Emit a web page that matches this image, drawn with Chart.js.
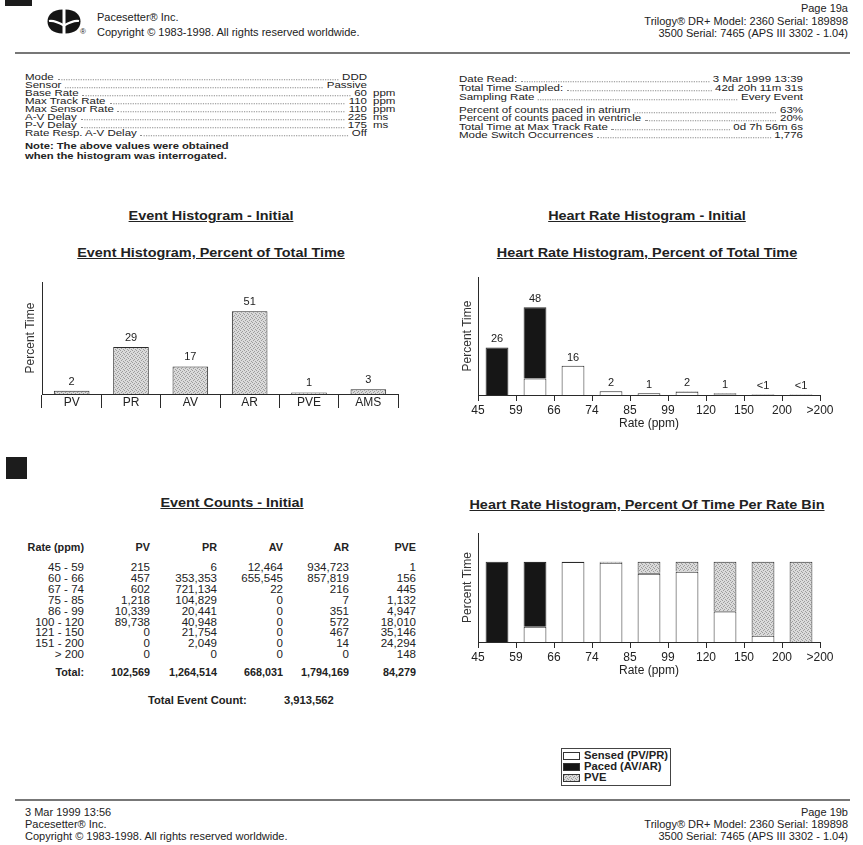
<!DOCTYPE html>
<html>
<head>
<meta charset="utf-8">
<script src="https://cdn.jsdelivr.net/npm/chart.js@4/dist/chart.umd.min.js"></script>
<style>
  html, body { margin: 0; padding: 0; background: #fff; }
  #page { position: relative; width: 863px; height: 845px; overflow: hidden; background: #fff;
          font-family: "Liberation Sans", Arial, sans-serif; color: #222; }
  .t { position: absolute; white-space: nowrap; line-height: 1; }
  .lead { position: absolute; display: flex; align-items: baseline; line-height: 1; white-space: nowrap; transform-origin: left center; }
  .lead .fill { flex: 1; height: 0; border-bottom: 1px dotted #8a8a8a; margin: 0 3px; }
  .rule { position: absolute; height: 2px; background: #777; }
  .blk { position: absolute; background: #1c1c1c; }
  canvas { position: absolute; }
  #legend { position: absolute; left: 561px; top: 748px; width: 108px; height: 36px; border: 1px solid #444; background: #fff; }
  .sw { position: absolute; width: 17px; height: 8px; border: 1px solid #333; box-sizing: border-box; }
</style>
</head>
<body>
<div id="page">
  <div class="blk" style="left:5px;top:0;width:27px;height:6px"></div>
  <svg style="position:absolute;left:47px;top:9px" width="34" height="25" viewBox="0 0 34 25">
    <path d="M15.5 0.5 C6 0.5 0.5 5.5 0.5 12.5 C0.5 19.5 6 24.5 15.5 24.5 Z" fill="#151515"/>
    <path d="M18.5 0.5 C28 0.5 33.5 5.5 33.5 12.5 C33.5 19.5 28 24.5 18.5 24.5 Z" fill="#151515"/>
    <path d="M2 12 C7 11 11 13 17 16.5 C23 13 27 11 32 12" stroke="#fff" stroke-width="2.2" fill="none"/>
  </svg>
  <div class="blk" style="left:6px;top:457px;width:21px;height:22px"></div>
  <div class="rule" style="left:15px;top:52px;width:835px"></div>
  <div class="rule" style="left:15px;top:799px;width:835px"></div>

  <canvas id="evChart" width="420" height="150" style="left:0;top:270px;width:420px;height:150px"></canvas>
  <canvas id="hrChart" width="420" height="166" style="left:430px;top:265px;width:420px;height:166px"></canvas>
  <canvas id="binChart" width="420" height="158" style="left:430px;top:520px;width:420px;height:158px"></canvas>

  <div id="legend"></div>
</div>

<script>
// ---- programmed parameters ----
const paramLabels = ['Mode', 'Sensor', 'Base Rate', 'Max Track Rate', 'Max Sensor Rate', 'A-V Delay', 'P-V Delay', 'Rate Resp. A-V Delay'];
const paramValues = ['DDD', 'Passive', '60', '110', '110', '225', '175', 'Off'];
const paramUnits  = ['', '', 'ppm', 'ppm', 'ppm', 'ms', 'ms', ''];

const readLabels = ['Date Read:', 'Total Time Sampled:', 'Sampling Rate'];
const readValues = ['3 Mar 1999 13:39', '42d 20h 11m 31s', 'Every Event'];
const statLabels = ['Percent of counts paced in atrium', 'Percent of counts paced in ventricle', 'Total Time at Max Track Rate', 'Mode Switch Occurrences'];
const statValues = ['63%', '20%', '0d 7h 56m 6s', '1,776'];

// ---- event histogram ----
const eventCats = ['PV', 'PR', 'AV', 'AR', 'PVE', 'AMS'];
const eventPct  = [2, 29, 17, 51, 1, 3];

// ---- heart rate histogram (percent of total time) ----
const rateEdges  = ['45', '59', '66', '74', '85', '99', '120', '150', '200', '>200'];
const hrSensed   = [0, 9, 16, 2, 0.9, 1.8, 0.4, 0.1, 0];
const hrPaced    = [26, 39, 0, 0, 0, 0, 0, 0, 0];
const hrPve      = [0, 0, 0, 0, 0.1, 0.2, 0.6, 0.3, 0.3];
const hrLabels   = ['26', '48', '16', '2', '1', '2', '1', '<1', '<1'];

// ---- heart rate histogram (percent of time per rate bin) ----
const binSensed = [0, 18.9, 99.9, 98.9, 85.3, 87.6, 37.9, 7.8, 0];
const binPaced  = [100, 81.0, 0, 0, 1.0, 0.4, 0.8, 0.1, 0];
const binPve    = [0, 0.1, 0.1, 1.1, 13.7, 12.0, 61.3, 92.1, 100];

// ---- event counts table ----
const rateBins = ['45 - 59', '60 - 66', '67 - 74', '75 - 85', '86 - 99', '100 - 120', '121 - 150', '151 - 200', '> 200'];
const countPV  = [215, 457, 602, 1218, 10339, 89738, 0, 0, 0];
const countPR  = [6, 353353, 721134, 104829, 20441, 40948, 21754, 2049, 0];
const countAV  = [12464, 655545, 22, 0, 0, 0, 0, 0, 0];
const countAR  = [934723, 857819, 216, 7, 351, 572, 467, 14, 0];
const countPVE = [1, 156, 445, 1132, 4947, 18010, 35146, 24294, 148];
const countTotals = [102569, 1264514, 668031, 1794169, 84279];
const totalEventCount = 3913562;

const page = document.getElementById('page');
const FONT = '"Liberation Sans", Arial, sans-serif';

// absolutely placed text line; y is the vertical centre, sx widens the glyphs
function put(txt, x, y, o = {}) {
  const d = document.createElement('div');
  d.className = 't';
  d.textContent = txt;
  d.style.left = x + 'px';
  d.style.top = y + 'px';
  const align = o.align || 'left';
  const tx = align === 'right' ? '-100%' : align === 'center' ? '-50%' : '0';
  d.style.transformOrigin = align + ' center';
  d.style.transform = `translate(${tx},-50%) scaleX(${o.sx || 1})`;
  d.style.fontSize = (o.size || 10) + 'px';
  if (o.bold) d.style.fontWeight = 'bold';
  if (o.u) d.style.textDecoration = 'underline';
  (o.parent || page).appendChild(d);
  return d;
}

// label ........ value row
function leader(label, value, x1, x2, y, size, sx) {
  const r = document.createElement('div');
  r.className = 'lead';
  r.style.left = x1 + 'px';
  r.style.width = ((x2 - x1) / sx) + 'px';
  r.style.top = y + 'px';
  r.style.transform = `translateY(-50%) scaleX(${sx})`;
  r.style.fontSize = size + 'px';
  const a = document.createElement('span'); a.textContent = label;
  const f = document.createElement('span'); f.className = 'fill';
  const b = document.createElement('span'); b.textContent = value;
  r.append(a, f, b);
  page.appendChild(r);
}

// header
put('Pacesetter\u00AE Inc.', 97, 17, { size: 11 });
put('Copyright \u00A9 1983-1998. All rights reserved worldwide.', 97, 32, { size: 11 });
put('\u00AE', 80, 32, { size: 8 });
put('Page 19a', 848, 8, { size: 11, align: 'right' });
put('Trilogy\u00AE DR+ Model: 2360 Serial: 189898', 848, 21, { size: 11, align: 'right' });
put('3500 Serial: 7465 (APS III 3302 - 1.04)', 848, 33, { size: 11, align: 'right' });

// parameter block
const PS = 9.5, PX = 1.21;
const paramY = [77, 85, 93, 101, 109, 117, 125, 133];
paramLabels.forEach((l, i) => {
  leader(l, paramValues[i], 25, 367, paramY[i], PS, PX);
  if (paramUnits[i]) put(paramUnits[i], 373, paramY[i], { size: PS, sx: PX });
});
put('Note: The above values were obtained', 25, 146, { size: 9.5, bold: true, sx: 1.18 });
put('when the histogram was interrogated.', 25, 156, { size: 9.5, bold: true, sx: 1.18 });

const readY = [79, 88, 97];
readLabels.forEach((l, i) => leader(l, readValues[i], 459, 803, readY[i], PS, PX));
const statY = [110, 118, 127, 135];
statLabels.forEach((l, i) => leader(l, statValues[i], 459, 803, statY[i], PS, PX));

// section titles
const TT = { size: 12, bold: true, u: true, align: 'center', sx: 1.2 };
put('Event Histogram - Initial', 211, 216, TT);
put('Heart Rate Histogram - Initial', 647, 216, TT);
put('Event Histogram, Percent of Total Time', 211, 253, TT);
put('Heart Rate Histogram, Percent of Total Time', 647, 253, TT);
put('Event Counts - Initial', 232, 503, TT);
put('Heart Rate Histogram, Percent Of Time Per Rate Bin', 647, 505, TT);

// event counts table
const fmt = n => n.toLocaleString('en-US');
const colX = [84, 150, 217, 283, 349, 416];
const heads = ['Rate (ppm)', 'PV', 'PR', 'AV', 'AR', 'PVE'];
heads.forEach((h, i) => put(h, colX[i], 548, { size: 10, bold: true, align: 'right', sx: 1.08 }));
const cols = [countPV, countPR, countAV, countAR, countPVE];
rateBins.forEach((b, r) => {
  const y = 567 + r * 10.9;
  put(b, colX[0], y, { size: 11, align: 'right', sx: 1.05 });
  cols.forEach((c, k) => put(fmt(c[r]), colX[k + 1], y, { size: 11, align: 'right', sx: 1.05 }));
});
put('Total:', colX[0], 673, { size: 10, bold: true, align: 'right', sx: 1.08 });
countTotals.forEach((t, k) => put(fmt(t), colX[k + 1], 673, { size: 10, bold: true, align: 'right', sx: 1.08 }));
put('Total Event Count:', 148, 701, { size: 10, bold: true, sx: 1.12 });
put(fmt(totalEventCount), 284, 701, { size: 10, bold: true, sx: 1.12 });

// footer
put('3 Mar 1999 13:56', 25, 812, { size: 11 });
put('Pacesetter\u00AE Inc.', 25, 824, { size: 11 });
put('Copyright \u00A9 1983-1998. All rights reserved worldwide.', 25, 836, { size: 11 });
put('Page 19b', 848, 812, { size: 11, align: 'right' });
put('Trilogy\u00AE DR+ Model: 2360 Serial: 189898', 848, 824, { size: 11, align: 'right' });
put('3500 Serial: 7465 (APS III 3302 - 1.04)', 848, 836, { size: 11, align: 'right' });

// stippled grey fill used for the shaded bars
function stippleCanvas() {
  const c = document.createElement('canvas');
  c.width = c.height = 4;
  const g = c.getContext('2d');
  g.fillStyle = '#dadada';
  g.fillRect(0, 0, 4, 4);
  g.fillStyle = '#9c9c9c';
  [[0, 0], [2, 1], [1, 2], [3, 3]].forEach(([x, y]) => g.fillRect(x, y, 1, 1));
  return c;
}
const stipCanvas = stippleCanvas();
const stipple = document.createElement('canvas').getContext('2d').createPattern(stipCanvas, 'repeat');

// legend
const legend = document.getElementById('legend');
const legendItems = [['Sensed (PV/PR)', '#fff'], ['Paced (AV/AR)', '#161616'], ['PVE', null]];
legendItems.forEach(([txt, col], i) => {
  const s = document.createElement('div');
  s.className = 'sw';
  s.style.left = '1px';
  s.style.top = (3 + i * 11) + 'px';
  if (col) s.style.background = col;
  else s.style.backgroundImage = `url(${stipCanvas.toDataURL()})`;
  legend.appendChild(s);
  put(txt, 22, 7 + i * 11, { size: 10, bold: true, parent: legend, sx: 1.12 });
});

// ---- charts ----
Chart.defaults.font.family = FONT;
Chart.defaults.color = '#222';
Chart.defaults.animation = false;

const valueLabels = {
  id: 'valueLabels',
  afterDatasetsDraw(chart, args, opts) {
    if (!opts.texts) return;
    const ctx = chart.ctx;
    const meta = chart.getDatasetMeta(chart.data.datasets.length - 1);
    ctx.save();
    ctx.font = `${opts.size}px ${FONT}`;
    ctx.fillStyle = '#222';
    ctx.textAlign = 'center';
    ctx.textBaseline = 'middle';
    meta.data.forEach((bar, i) => ctx.fillText(opts.texts[i], bar.x, bar.y - opts.gap));
    ctx.restore();
  }
};

const INK = '#2a2a2a';

function yAxis(max, width, titlePad) {
  return {
    min: 0, max,
    stacked: true,
    ticks: { display: false },
    grid: { display: false },
    border: { display: true, color: INK, width: 1 },
    title: { display: true, text: 'Percent Time', font: { size: 12 }, color: '#333', padding: { top: titlePad, bottom: 0 } },
    afterFit: s => { s.width = width; }
  };
}

function rateAxis() {
  return {
    type: 'linear', min: 0, max: 9, offset: false, stacked: true,
    ticks: { stepSize: 1, autoSkip: false, maxRotation: 0, padding: 2, font: { size: 12 }, color: '#222',
             callback: v => rateEdges[v] ?? '' },
    grid: { display: true, drawOnChartArea: false, tickLength: 6, color: INK, offset: false },
    border: { display: true, color: INK, width: 1 },
    title: { display: true, text: 'Rate (ppm)', font: { size: 12 }, color: '#222', padding: { top: 0, bottom: 0 } },
    afterFit: s => { s.height = 36; }
  };
}

const atBins = arr => arr.map((v, i) => ({ x: i + 0.5, y: v }));
const barStyle = { borderColor: INK, borderWidth: 1, borderSkipped: 'bottom', barPercentage: 0.6, categoryPercentage: 1 };

new Chart(document.getElementById('evChart'), {
  type: 'bar',
  data: {
    labels: eventCats,
    datasets: [{ data: eventPct, backgroundColor: stipple, ...barStyle }]
  },
  options: {
    responsive: false, devicePixelRatio: 1,
    layout: { padding: { left: 0, top: 12, right: 22, bottom: 0 } },
    plugins: { legend: { display: false }, tooltip: { enabled: false },
               valueLabels: { texts: eventPct.map(String), size: 11, gap: 9 } },
    scales: {
      x: {
        type: 'category', offset: true,
        ticks: { autoSkip: false, maxRotation: 0, padding: -13, font: { size: 12 }, color: '#222' },
        grid: { display: true, drawOnChartArea: false, tickLength: 14, color: INK, offset: true },
        border: { display: true, color: INK, width: 1 },
        afterFit: s => { s.height = 26; }
      },
      y: yAxis(69, 42, 23)
    }
  },
  plugins: [valueLabels]
});

new Chart(document.getElementById('hrChart'), {
  type: 'bar',
  data: {
    datasets: [
      { label: 'Sensed (PV/PR)', data: atBins(hrSensed), backgroundColor: '#fff', ...barStyle },
      { label: 'Paced (AV/AR)', data: atBins(hrPaced), backgroundColor: '#161616', ...barStyle },
      { label: 'PVE', data: atBins(hrPve), backgroundColor: stipple, ...barStyle }
    ]
  },
  options: {
    responsive: false, devicePixelRatio: 1,
    layout: { padding: { left: 0, top: 12, right: 30, bottom: 0 } },
    plugins: { legend: { display: false }, tooltip: { enabled: false },
               valueLabels: { texts: hrLabels, size: 11, gap: 8 } },
    scales: { x: rateAxis(), y: yAxis(64.5, 48, 30) }
  },
  plugins: [valueLabels]
});

new Chart(document.getElementById('binChart'), {
  type: 'bar',
  data: {
    datasets: [
      { label: 'Sensed (PV/PR)', data: atBins(binSensed), backgroundColor: '#fff', ...barStyle },
      { label: 'Paced (AV/AR)', data: atBins(binPaced), backgroundColor: '#161616', ...barStyle },
      { label: 'PVE', data: atBins(binPve), backgroundColor: stipple, ...barStyle }
    ]
  },
  options: {
    responsive: false, devicePixelRatio: 1,
    layout: { padding: { left: 0, top: 13, right: 30, bottom: 0 } },
    plugins: { legend: { display: false }, tooltip: { enabled: false } },
    scales: { x: rateAxis(), y: yAxis(136, 48, 30) }
  }
});
</script>
</body>
</html>
